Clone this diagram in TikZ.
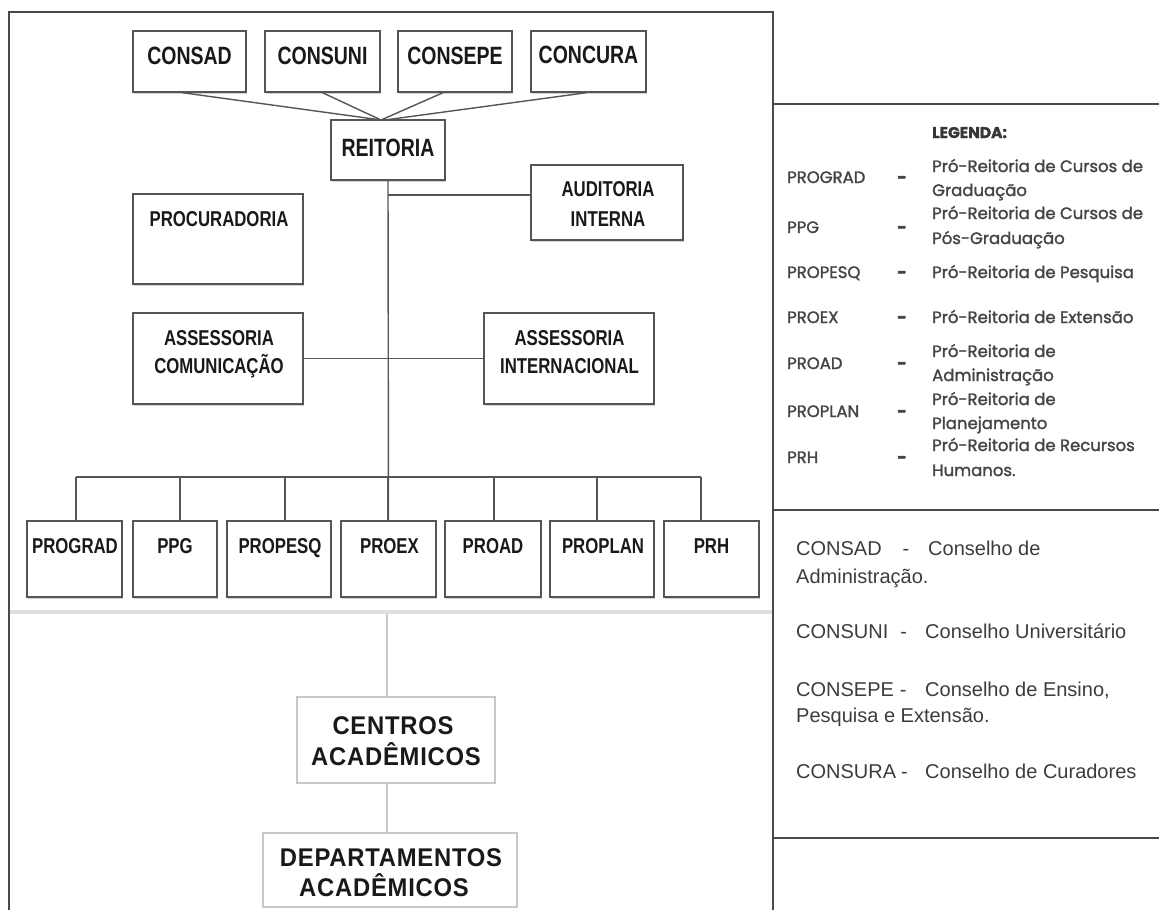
\documentclass[tikz,border=0pt]{standalone}
\usepackage{fontspec}
\setmainfont{Liberation Sans}
\newfontfamily\boxfont{Liberation Sans}[FakeStretch=0.78]
\newfontfamily\lowfont{Liberation Sans}[FakeStretch=0.93,LetterSpace=3]
\newfontfamily\legfont{Poppins}[FakeBold=1.6]
\usetikzlibrary{shadows,calc}
\definecolor{framegray}{HTML}{4A4A4A}
\definecolor{wiregray}{HTML}{555555}
\definecolor{palegray}{HTML}{C8C8C8}
\definecolor{legtext}{HTML}{454545}
\definecolor{notetext}{HTML}{3C3C3C}

\begin{document}
\begin{tikzpicture}[x=1pt,y=-1pt,
  unit/.style={draw=wiregray, line width=1.4pt, fill=white, inner sep=0pt,
    drop shadow={shadow xshift=0.6pt, shadow yshift=-1.8pt, fill=black!35}},
  minor/.style={draw=palegray, line width=1.2pt, fill=white, inner sep=0pt},
  big/.style={font=\boxfont\bfseries\fontsize{25}{30}\selectfont, text=black!90, inner sep=0pt, anchor=base},
  small/.style={font=\boxfont\bfseries\fontsize{21.5}{26}\selectfont, text=black!90, inner sep=0pt, anchor=base},
  low/.style={font=\lowfont\bfseries\fontsize{25.6}{30}\selectfont, text=black!90, inner sep=0pt, anchor=base},
  leg/.style={font=\legfont\fontsize{16.5}{24}\selectfont, text=legtext, inner sep=0pt, anchor=base west},
  legdash/.style={font=\legfont\bfseries\fontsize{16.5}{24}\selectfont, text=legtext, inner sep=0pt, anchor=base},
  note/.style={font=\fontsize{20}{25}\selectfont, text=notetext, inner sep=0pt, anchor=base west},
  notedash/.style={font=\fontsize{20}{25}\selectfont, text=notetext, inner sep=0pt, anchor=base},
  wire/.style={draw=wiregray, line width=1.4pt},
  paleline/.style={draw=palegray, line width=1.4pt},
  border/.style={draw=framegray, line width=1.6pt},
]
\useasboundingbox (0,0) rectangle (1159,910);

% ---------- frames ----------
\coordinate (f-tl) at (9,12);
\coordinate (f-tr) at (773,12);
\coordinate (f-bl) at (9,916);
\coordinate (f-br) at (773,916);
\draw[border] (f-bl) -- (f-tl) -- (f-tr) -- (f-br);
\coordinate (r1l) at (773,104);  \coordinate (r1r) at (1162,104);
\coordinate (r2l) at (773,510);  \coordinate (r2r) at (1162,510);
\coordinate (r3l) at (773,838);  \coordinate (r3r) at (1162,838);
\draw[border] (r1l) -- (r1r);
\draw[border] (r2l) -- (r2r);
\draw[border] (r3l) -- (r3r);

% separator between administration and academic units
\coordinate (sep-l) at (10,612);
\coordinate (sep-r) at (772,612);
\draw[draw=black!12, line width=4pt] (sep-l) -- (sep-r);

% ---------- boxes ----------
\node[unit, minimum width=113pt, minimum height=61pt] (consad)  at (189.5,61.5) {};
\node[unit, minimum width=115pt, minimum height=61pt] (consuni) at (322.5,61.5) {};
\node[unit, minimum width=114pt, minimum height=61pt] (consepe) at (455,61.5) {};
\node[unit, minimum width=115pt, minimum height=61pt] (concura) at (588.5,61.5) {};
\node[unit, minimum width=114pt, minimum height=60pt] (reitoria) at (388,150) {};
\node[unit, minimum width=152pt, minimum height=75pt] (auditoria) at (607,202.5) {};
\node[unit, minimum width=170pt, minimum height=90pt] (procuradoria) at (218,239) {};
\node[unit, minimum width=170pt, minimum height=91pt] (acom) at (218,358.5) {};
\node[unit, minimum width=170pt, minimum height=91pt] (aint) at (569,358.5) {};

\node[unit, minimum width=95pt,  minimum height=76pt] (prograd) at (74.5,559) {};
\node[unit, minimum width=84pt,  minimum height=76pt] (ppg)     at (175,559) {};
\node[unit, minimum width=104pt, minimum height=76pt] (propesq) at (279,559) {};
\node[unit, minimum width=95pt,  minimum height=76pt] (proex)   at (388.5,559) {};
\node[unit, minimum width=96pt,  minimum height=76pt] (proad)   at (493,559) {};
\node[unit, minimum width=104pt, minimum height=76pt] (proplan) at (602,559) {};
\node[unit, minimum width=95pt,  minimum height=76pt] (prh)     at (711.5,559) {};

\node[minor, minimum width=198pt, minimum height=86pt] (centros) at (396,740) {};
\node[minor, minimum width=254pt, minimum height=74pt] (deptos)  at (390,870) {};

% ---------- connectors ----------
\coordinate (hub) at (381,120);
\draw[wire] ($(consad.south)+(-7,0)$) -- (hub);
\draw[wire] (consuni.south) -- (hub);
\draw[wire] ($(consepe.south)+(-12,0)$) -- (hub);
\draw[wire] ($(concura.south)+(-2,0)$) -- ($(hub)+(4,0)$);

\draw[wire] (reitoria.south) -- (proex.north);
\coordinate (audj) at (388,195);
\draw[wire] (audj) -- (audj -| auditoria.west);
\draw[wire] (acom.east) -- (aint.west);

\coordinate (bus-l) at (76,477);
\coordinate (bus-r) at (701,477);
\draw[wire] (bus-l) -- (bus-r);
\foreach \n/\dx in {prograd/1.5, ppg/5, propesq/6, proex/-0.5, proad/1, proplan/-5, prh/-10.5}{
  \path ([xshift=\dx pt]\n.north) coordinate (drop-\n);
  \draw[wire] (drop-\n) -- (drop-\n |- bus-l);
}

\coordinate (sepmid) at (387,614);
\draw[paleline] (sepmid) -- (sepmid |- centros.north);
\draw[paleline] (centros.south -| sepmid) -- (deptos.north -| sepmid);

% ---------- box texts ----------
\node[big] (t-consad)  at (189.5,64) {CONSAD};
\node[big] (t-consuni) at (322.5,64) {CONSUNI};
\node[big] (t-consepe) at (455,64) {CONSEPE};
\node[big] (t-concura) at (588.5,63) {CONCURA};
\node[big] (t-reitoria) at (388,156) {REITORIA};

\node[small] (t-aud1) at (608,196) {AUDITORIA};
\node[small] (t-aud2) at (608,226) {INTERNA};
\node[small] (t-proc) at (219,226) {PROCURADORIA};
\node[small] (t-acom1) at (219,345) {ASSESSORIA};
\node[small] (t-acom2) at (219,373) {COMUNICAÇÃO};
\node[small] (t-aint1) at (569.5,345) {ASSESSORIA};
\node[small] (t-aint2) at (569.5,373) {INTERNACIONAL};

\node[small] (t-prograd) at (75,553) {PROGRAD};
\node[small] (t-ppg)     at (175,553) {PPG};
\node[small] (t-propesq) at (280,553) {PROPESQ};
\node[small] (t-proex)   at (389.5,553) {PROEX};
\node[small] (t-proad)   at (493,553) {PROAD};
\node[small] (t-proplan) at (603,553) {PROPLAN};
\node[small] (t-prh)     at (711.5,553) {PRH};

\node[low] (t-cen1) at (393,734) {CENTROS};
\node[low] (t-cen2) at (396,765) {ACADÊMICOS};
\node[low] (t-dep1) at (391,866) {DEPARTAMENTOS};
\node[low] (t-dep2) at (384,896) {ACADÊMICOS};

% ---------- legend ----------
\node[font=\legfont\bfseries\fontsize{15.5}{18}\selectfont, text=legtext!80!black, inner sep=0pt, anchor=base west]
  (legenda) at (932,138) {LEGENDA:};

\foreach \ab/\yy [count=\i] in {PROGRAD/183, PPG/233, PROPESQ/278, PROEX/323, PROAD/369, PROPLAN/417, PRH/463}{
  \node[leg] (lg-ab-\i) at (787,\yy) {\ab};
  \node[legdash] (lg-d-\i) at (902,\yy) {-};
}
\node[leg] (lg-1a) at (932,172) {Pró-Reitoria de Cursos de};
\node[leg] (lg-1b) at (932,196) {Graduação};
\node[leg] (lg-2a) at (932,219) {Pró-Reitoria de Cursos de};
\node[leg] (lg-2b) at (932,244) {Pós-Graduação};
\node[leg] (lg-3)  at (932,278) {Pró-Reitoria de Pesquisa};
\node[leg] (lg-4)  at (932,323) {Pró-Reitoria de Extensão};
\node[leg] (lg-5a) at (932,357) {Pró-Reitoria de};
\node[leg] (lg-5b) at (932,381) {Administração};
\node[leg] (lg-6a) at (932,405) {Pró-Reitoria de};
\node[leg] (lg-6b) at (932,429) {Planejamento};
\node[leg] (lg-7a) at (932,451) {Pró-Reitoria de Recursos};
\node[leg] (lg-7b) at (932,476) {Humanos.};

% ---------- council notes ----------
\node[note] (n-consad) at (796,555) {CONSAD};
\node[notedash] (n-d1) at ($(n-consad.base east)+(24,0)$) {-};
\node[note] (n-consad-t) at (928,555) {Conselho de};
\node[note] (n-consad-t2) at (796,583) {Administração.};

\node[note] (n-consuni) at (796,638) {CONSUNI};
\node[notedash] (n-d2) at ($(n-consuni.base east)+(15,0)$) {-};
\node[note] (n-consuni-t) at (925,638) {Conselho Universitário};

\node[note] (n-consepe) at (796,696) {CONSEPE};
\node[notedash] (n-d3) at ($(n-consepe.base east)+(9,0)$) {-};
\node[note] (n-consepe-t) at (925,696) {Conselho de Ensino,};
\node[note] (n-consepe-t2) at (796,722) {Pesquisa e Extensão.};

\node[note] (n-consura) at (796,778) {CONSURA};
\node[notedash] (n-d4) at ($(n-consura.base east)+(8,0)$) {-};
\node[note] (n-consura-t) at (925,778) {Conselho de Curadores};
\end{tikzpicture}
\end{document}
